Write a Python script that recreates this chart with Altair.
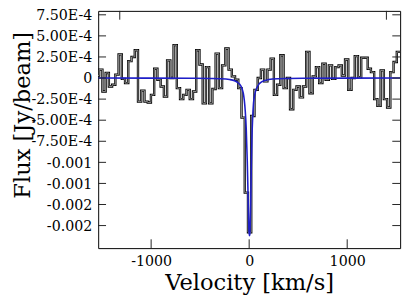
import altair as alt
import pandas as pd

# ---- data ----
channel_width = 33.0      # km/s
first_center = -1546.5    # km/s, centre of the first channel
# flux per channel in units of 1e-4 Jy/beam
flux_e4 = [
    0.3, 1.0, -1.6, 0.6, -1.0, -0.8, 0.4, 2.8, -0.1, -0.6,
    2.0, 2.5, 3.3, -2.8, -1.5, -2.8, -2.9, -2.0, 1.1, -0.2,
    -1.0, -2.2, 2.1, 0.0, 3.9, -1.2, -2.5, -2.0, -1.4, -2.5,
    -1.6, 3.3, 1.6, -3.0, 1.3, -3.0, -1.3, 2.9, -1.2, 1.5,
    3.5, 1.0, 0.2, -0.2, -1.2, -4.7, -13.6, -18.3, -4.5, -1.4,
    0.0, 1.0, -0.4, 1.0, 2.3, -2.0, -0.8, 2.7, -1.2, 0.0,
    -3.7, -1.4, -1.0, -2.3, -1.0, 3.1, -1.8, 0.2, 1.3, -0.6,
    1.7, -0.2, 1.5, -0.1, 1.3, 1.5, 0.3, 2.2, -1.4, 0.0,
    2.6, 0.1, 2.4, 2.4, 1.1, 0.7, -2.5, -3.3, 0.9, -2.5,
    -3.5, 0.7, 1.9, 3.1, 3.1,
]
velocity = [first_center + channel_width * i for i in range(len(flux_e4))]

# fitted profile, flux in 1e-4 Jy/beam
fit_v = [-1540, -600, -400, -300, -200, -150, -120, -100, -80, -70, -60, -50,
         -40, -30, -20, -13, -8, -3, 2, 6, 11, 16, 22, 28, 35, 43, 52, 62,
         77, 100, 127, 160, 200, 300, 400, 600, 1540]
fit_f_e4 = [0.0, -0.02, -0.05, -0.08, -0.18, -0.32, -0.5, -0.7, -1.05, -1.35,
            -1.8, -2.6, -3.9, -6.0, -9.6, -13.0, -15.8, -17.8, -18.7, -18.6,
            -17.2, -14.5, -10.5, -7.2, -4.9, -3.2, -2.3, -1.7, -1.2, -0.72,
            -0.45, -0.28, -0.18, -0.08, -0.05, -0.02, 0.0]

y_tick_values = [7.5e-4, 5e-4, 2.5e-4, 0.0, -2.5e-4, -5e-4, -7.5e-4,
                 -1e-3, -1.25e-3, -1.5e-3, -1.75e-3]
y_tick_labels = ["7.50E-4", "5.00E-4", "2.50E-4", "0", "-2.50E-4", "-5.00E-4",
                 "-7.50E-4", "-0.001", "-0.001", "-0.002", "-0.002"]
x_tick_values = [-1000, 0, 1000]
top_tick_values = [-1320, 1400]

x_domain = [-1540, 1540]
y_domain = [-2.0174e-3, 7.965e-4]

# ---- tables ----
spec_df = pd.DataFrame({"v": velocity, "f": [a * 1e-4 for a in flux_e4]})
fit_df = pd.DataFrame({"v": fit_v, "f": [a * 1e-4 for a in fit_f_e4]})
ytick_df = pd.DataFrame({"f": y_tick_values, "label": y_tick_labels})
xtick_df = pd.DataFrame({"v": x_tick_values})
toptick_df = pd.DataFrame({"v": top_tick_values})

W, H = 308, 242
FONT = "'DejaVu Serif', 'Liberation Serif', serif"

xs = alt.Scale(domain=x_domain, nice=False, zero=False)
ys = alt.Scale(domain=y_domain, nice=False, zero=False)

x_enc = alt.X(
    "v:Q", scale=xs,
    axis=alt.Axis(
        title="Velocity [km/s]", values=x_tick_values, ticks=False, tickSize=0,
        domain=False, grid=False, labelExpr="'' + datum.value",
        labelPadding=7, titleBaseline="alphabetic", titleY=42,
        titleFontSize=23,
    ),
)
y_enc = alt.Y(
    "f:Q", scale=ys,
    axis=alt.Axis(
        title="Flux [Jy/beam]", labels=False, ticks=False, domain=False,
        grid=False, titleAngle=270, titleBaseline="middle",
        titleAlign="center", titleX=-77, titleY=106, titleFontSize=23,
    ),
)

steps_black = alt.Chart(spec_df).mark_line(
    interpolate="step", color="black", strokeWidth=2.4, clip=True
).encode(x=x_enc, y=y_enc)
steps_gray = alt.Chart(spec_df).mark_line(
    interpolate="step", color="#a0a0a0", strokeWidth=0.9, clip=True
).encode(x=x_enc, y=y_enc)
fit_line = alt.Chart(fit_df).mark_line(
    interpolate="monotone", color="#1e1ec8", strokeWidth=1.6, clip=True
).encode(x=x_enc, y=y_enc)

left_ticks = alt.Chart(ytick_df).mark_rule(color="#222", strokeWidth=1).encode(
    y=y_enc, x=alt.value(0), x2=alt.value(8))
right_ticks = alt.Chart(ytick_df).mark_rule(color="#222", strokeWidth=1).encode(
    y=y_enc, x=alt.value(W - 8), x2=alt.value(W))
bottom_ticks = alt.Chart(xtick_df).mark_rule(color="#222", strokeWidth=1).encode(
    x=x_enc, y=alt.value(H - 9), y2=alt.value(H))
top_ticks = alt.Chart(toptick_df).mark_rule(color="#222", strokeWidth=1).encode(
    x=x_enc, y=alt.value(0), y2=alt.value(9))
y_labels = alt.Chart(ytick_df).mark_text(
    align="right", baseline="alphabetic", dy=5.3, font=FONT, fontSize=14.5,
    color="black"
).encode(y=y_enc, x=alt.value(-6), text="label:N")

chart = alt.layer(
    steps_black, steps_gray, fit_line,
    left_ticks, right_ticks, bottom_ticks, top_ticks, y_labels,
).properties(
    width=W, height=H,
    autosize=alt.AutoSizeParams(type="none"),
    padding={"left": 92, "top": 0, "right": 7, "bottom": 51},
    background="white",
).configure(
    font=FONT
).configure_axis(
    labelFont=FONT, labelFontSize=14.5, labelColor="black",
    titleFont=FONT, titleFontWeight="normal", titleColor="black",
).configure_view(stroke="black", strokeWidth=1)

chart.save("out.html", embed_options={"renderer": "svg", "actions": False})
